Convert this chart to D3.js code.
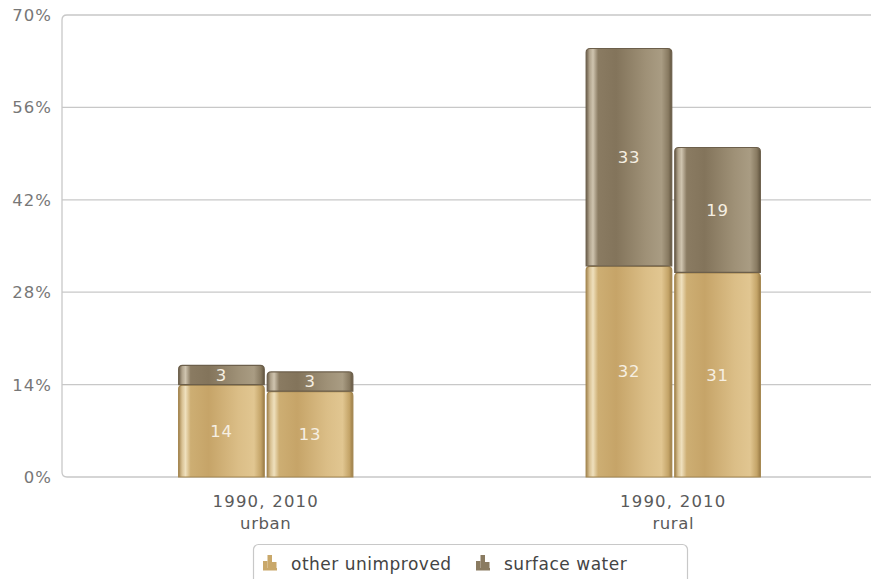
<!DOCTYPE html>
<html>
<head>
<meta charset="utf-8">
<script src="https://cdn.jsdelivr.net/npm/d3@7"></script>
<style>
  html, body { margin: 0; padding: 0; background: #ffffff; }
  svg { display: block; font-family: "DejaVu Sans", Verdana, sans-serif; }
</style>
</head>
<body>
<svg id="chart" width="871" height="579"></svg>
<script>
// Groups, years and the two stacked series (percent of population)
const areas = ["urban", "rural"];
const years = ["1990", "2010"];
const seriesNames = ["other unimproved", "surface water"];
const otherUnimproved = [[14, 13], [32, 31]];
const surfaceWater = [[3, 3], [33, 19]];
const yTicks = [0, 14, 28, 42, 56, 70];

const svg = d3.select("#chart");
const W = 871, H = 579;
const plot = { left: 62, right: 877, top: 15, bottom: 477 };

const y = d3.scaleLinear().domain([0, 70]).range([plot.bottom, plot.top]);
const x = d3.scaleBand().domain(areas).range([plot.left, plot.right]).padding(0);
const xs = d3.scaleBand().domain(years).range([0, x.bandwidth()])
  .paddingInner(0.0226).paddingOuter(1.311);

// Cylinder-like horizontal gradients for the two series
const defs = svg.append("defs");
function gradient(id, stops) {
  const g = defs.append("linearGradient").attr("id", id)
    .attr("x1", "0%").attr("x2", "100%").attr("y1", "0%").attr("y2", "0%");
  stops.forEach(([o, c]) => g.append("stop").attr("offset", o).attr("stop-color", c));
}
gradient("gOther", [
  ["0%", "#a3844f"], ["4%", "#d9c294"], ["8%", "#efe0bd"], ["14%", "#cdae73"],
  ["35%", "#c6a468"], ["70%", "#dbbe87"], ["88%", "#e1c691"], ["96%", "#c4a468"], ["100%", "#9b7d48"]
]);
gradient("gSurface", [
  ["0%", "#685b47"], ["4%", "#b0a38c"], ["8%", "#cfc4af"], ["14%", "#8a7b62"],
  ["35%", "#83745b"], ["70%", "#9f9177"], ["88%", "#a99c83"], ["96%", "#887a61"], ["100%", "#625540"]
]);
const fills = ["url(#gOther)", "url(#gSurface)"];
const strokes = ["#a4864f", "#6c5f4b"];
const iconColors = ["#c9a86a", "#8a7b61"];

// Gridlines
svg.append("g").selectAll("line").data(yTicks.filter(t => t > 0 && t < 70)).join("line")
  .attr("x1", plot.left).attr("x2", W)
  .attr("y1", d => y(d)).attr("y2", d => y(d))
  .attr("stroke", "#c8c8c8").attr("stroke-width", 1.3);

// Plot frame: top, left (rounded corners) and bottom
const r = 5;
svg.append("path")
  .attr("d", `M${W},${plot.top} L${plot.left + r},${plot.top} Q${plot.left},${plot.top} ${plot.left},${plot.top + r}
              L${plot.left},${plot.bottom - r} Q${plot.left},${plot.bottom} ${plot.left + r},${plot.bottom} L${W},${plot.bottom}`)
  .attr("fill", "none").attr("stroke", "#c8c8c8").attr("stroke-width", 1.3);

// Y tick labels
svg.append("g").selectAll("text").data(yTicks).join("text")
  .attr("x", 52).attr("y", d => y(d) + 6)
  .attr("text-anchor", "end")
  .attr("font-size", 16.5).attr("letter-spacing", 1)
  .attr("fill", "#777")
  .text(d => d + "%");

// Stacked bars
function roundedTop(x0, y0, w, h, rr) {
  rr = Math.min(rr, h / 2);
  return `M${x0},${y0 + h} L${x0},${y0 + rr} Q${x0},${y0} ${x0 + rr},${y0} L${x0 + w - rr},${y0}
          Q${x0 + w},${y0} ${x0 + w},${y0 + rr} L${x0 + w},${y0 + h} Z`;
}
const barG = svg.append("g");
areas.forEach((area, ai) => {
  years.forEach((yr, yi) => {
    const vals = [otherUnimproved[ai][yi], surfaceWater[ai][yi]];
    const bx = x(area) + xs(yr);
    const bw = xs.bandwidth();
    let base = 0;
    vals.forEach((v, si) => {
      const yTop = y(base + v), yBot = y(base);
      barG.append("path")
        .attr("d", roundedTop(bx + 0.5, yTop + 0.5, bw - 1, yBot - yTop - 0.5, 4))
        .attr("fill", fills[si])
        .attr("stroke", strokes[si]).attr("stroke-width", 1.2);
      barG.append("text")
        .attr("x", bx + bw / 2).attr("y", (yTop + yBot) / 2 + 6)
        .attr("text-anchor", "middle")
        .attr("font-size", 16.5).attr("letter-spacing", 0.8)
        .attr("fill", "#f6efe2")
        .text(v);
      base += v;
    });
  });
});

// Category labels
const xl = svg.append("g");
areas.forEach(area => {
  const cx = x(area) + x.bandwidth() / 2;
  xl.append("text").attr("x", cx).attr("y", 507).attr("text-anchor", "middle")
    .attr("font-size", 16.5).attr("letter-spacing", 1.2).attr("fill", "#5a5a5a")
    .text(years.join(", "));
  xl.append("text").attr("x", cx).attr("y", 529).attr("text-anchor", "middle")
    .attr("font-size", 16.5).attr("letter-spacing", 0.6).attr("fill", "#5a5a5a")
    .text(area);
});

// Legend
const lg = svg.append("g");
lg.append("rect").attr("x", 253.5).attr("y", 544.5).attr("width", 434).attr("height", 50)
  .attr("rx", 5).attr("fill", "#fff").attr("stroke", "#c8c8c8").attr("stroke-width", 1.2);
const legendX = [263, 476];
seriesNames.forEach((name, i) => {
  const gx = legendX[i];
  const ic = lg.append("g").attr("fill", iconColors[i]);
  [[0, 9], [4.5, 15], [9, 8]].forEach(([dx, h]) =>
    ic.append("rect").attr("x", gx + dx).attr("y", 570 - h).attr("width", 4.5).attr("height", h));
  ic.append("rect").attr("x", gx).attr("y", 568).attr("width", 14).attr("height", 2.5);
  lg.append("text").attr("x", gx + 28).attr("y", 570)
    .attr("font-size", 17).attr("letter-spacing", 0.5).attr("fill", "#444")
    .text(name);
});
</script>
</body>
</html>
